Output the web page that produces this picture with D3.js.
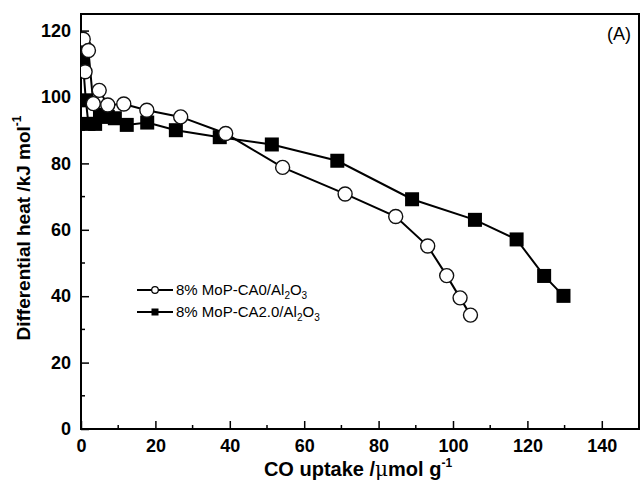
<!DOCTYPE html>
<html><head><meta charset="utf-8">
<script src="https://cdn.jsdelivr.net/npm/d3@7"></script>
<style>body{margin:0;background:#fff;} svg{display:block;} text{font-family:"Liberation Sans",Arial,sans-serif;}</style>
</head><body>
<svg id="c" width="640" height="482"></svg>
<script>
const xTicks = [0,20,40,60,80,100,120,140];
const yTicks = [0,20,40,60,80,100,120];
const ca0X = [0.6, 1.1, 2.0, 3.3, 4.9, 7.2, 11.5, 17.7, 26.8, 38.9, 54.2, 71.0, 84.6, 93.2, 98.3, 101.9, 104.7];
const ca0Y = [117.4, 107.6, 114.0, 98.0, 102.0, 97.6, 97.9, 96.0, 94.0, 89.0, 78.8, 70.8, 64.0, 55.1, 46.2, 39.5, 34.3];
const ca2X = [0.8, 0.5, 1.3, 2.0, 3.8, 5.1, 7.2, 9.1, 12.3, 17.8, 25.5, 37.3, 51.3, 68.9, 89.0, 105.9, 117.1, 124.5, 129.7];
const ca2Y = [114.4, 110.6, 99.0, 91.9, 91.9, 94.6, 94.0, 93.6, 91.6, 92.3, 90.0, 87.9, 85.7, 80.8, 69.2, 63.0, 57.1, 46.1, 40.1];

const svg = d3.select("#c");
const L = 81, R = 639, T = 14, B = 429;
const x = d3.scaleLinear().domain([0,150]).range([L,R]);
const y = d3.scaleLinear().domain([0,125]).range([B,T]);

svg.append("defs").append("clipPath").attr("id","clip")
  .append("rect").attr("x",L).attr("y",T).attr("width",R-L).attr("height",B-T);

// minor ticks
const xMinor = d3.range(10,150,20);
const yMinor = d3.range(10,125,20);
const g = svg.append("g");
xMinor.forEach(v=>g.append("line").attr("x1",x(v)).attr("x2",x(v)).attr("y1",B).attr("y2",B-4).attr("stroke","#000").attr("stroke-width",1.5));
yMinor.forEach(v=>g.append("line").attr("y1",y(v)).attr("y2",y(v)).attr("x1",L).attr("x2",L+4).attr("stroke","#000").attr("stroke-width",1.5));

const xAxis = svg.append("g").attr("transform",`translate(0,${B})`)
  .call(d3.axisBottom(x).tickValues(xTicks).tickSizeInner(-8).tickSizeOuter(0).tickPadding(7));
const yAxis = svg.append("g").attr("transform",`translate(${L},0)`)
  .call(d3.axisLeft(y).tickValues(yTicks).tickSizeInner(-8).tickSizeOuter(0).tickPadding(10));
[xAxis,yAxis].forEach(a=>{
  a.select(".domain").remove();
  a.selectAll(".tick line").attr("stroke","#000").attr("stroke-width",1.5);
  a.selectAll(".tick text").attr("font-size",18).attr("font-weight","bold").attr("fill","#000")
   .style("font-family","'Liberation Sans',Arial,sans-serif");
});
xAxis.selectAll(".tick text").attr("dy","0.9em");
// frame
svg.append("rect").attr("x",L).attr("y",T).attr("width",R-L).attr("height",B-T)
  .attr("fill","none").attr("stroke","#000").attr("stroke-width",2);

const plot = svg.append("g").attr("clip-path","url(#clip)");
const line = d3.line().x(d=>x(d[0])).y(d=>y(d[1]));
const s0 = ca0X.map((v,i)=>[v,ca0Y[i]]);
const s2 = ca2X.map((v,i)=>[v,ca2Y[i]]);
plot.append("path").datum(s2).attr("d",line).attr("fill","none").attr("stroke","#000").attr("stroke-width",2);
plot.append("path").datum(s0).attr("d",line).attr("fill","none").attr("stroke","#000").attr("stroke-width",2);
plot.selectAll(".sq").data(s2).enter().append("rect")
  .attr("x",d=>x(d[0])-7).attr("y",d=>y(d[1])-7).attr("width",14).attr("height",14).attr("fill","#000");
plot.selectAll(".ci").data(s0).enter().append("circle")
  .attr("cx",d=>x(d[0])).attr("cy",d=>y(d[1])).attr("r",7).attr("fill","#fff").attr("stroke","#111").attr("stroke-width",1.4);

// legend
const lg = svg.append("g");
function legendRow(yy, shape, label){
  lg.append("line").attr("x1",137).attr("x2",173).attr("y1",yy).attr("y2",yy).attr("stroke","#000").attr("stroke-width",2);
  if(shape==="c") lg.append("circle").attr("cx",155).attr("cy",yy).attr("r",3.3).attr("fill","#fff").attr("stroke","#000").attr("stroke-width",1.2);
  else lg.append("rect").attr("x",151.5).attr("y",yy-3.5).attr("width",7).attr("height",7).attr("fill","#000");
  const t = lg.append("text").attr("x",176).attr("y",yy+5).attr("font-size",15).attr("fill","#000");
  t.append("tspan").text(label+"/Al");
  t.append("tspan").attr("font-size",10).attr("dy",4).text("2");
  t.append("tspan").attr("dy",-4).text("O");
  t.append("tspan").attr("font-size",10).attr("dy",4).text("3");
}
legendRow(290,"c","8% MoP-CA0");
legendRow(312,"s","8% MoP-CA2.0");

svg.append("text").attr("x",631).attr("y",40).attr("text-anchor","end").attr("font-size",18).attr("fill","#000").text("(A)");

// axis titles
const xt = svg.append("text").attr("x",358).attr("y",476).attr("text-anchor","middle").attr("font-size",20).attr("font-weight","bold").attr("fill","#000");
xt.append("tspan").text("CO uptake /");
xt.append("tspan").attr("font-weight","normal").style("font-family","'DejaVu Serif',serif").text("μ");
xt.append("tspan").text("mol g");
xt.append("tspan").attr("font-size",12).attr("dy",-9).text("-1");

const yt = svg.append("text").attr("transform","translate(30,228) rotate(-90)").attr("text-anchor","middle").attr("font-size",19).attr("font-weight","bold").attr("fill","#000");
yt.append("tspan").text("Differential heat /kJ mol");
yt.append("tspan").attr("font-size",12).attr("dy",-9).text("-1");
</script>
</body></html>
